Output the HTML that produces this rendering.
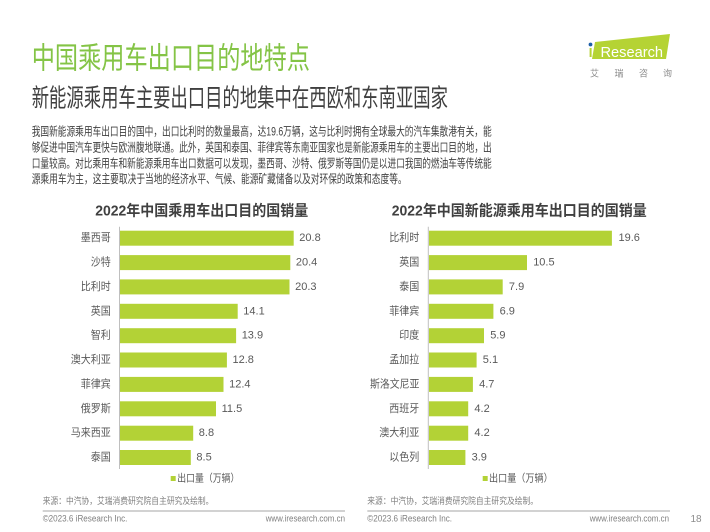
<!DOCTYPE html>
<html>
<head>
<meta charset="utf-8">
<style>
html,body{margin:0;padding:0;background:#fff;}
body{width:710px;height:532px;overflow:hidden;}
svg{display:block;}
text{font-family:"Liberation Sans","Noto Sans CJK SC",sans-serif;}
</style>
</head>
<body>
<svg width="710" height="532" viewBox="0 0 710 532" xmlns="http://www.w3.org/2000/svg">
<rect width="710" height="532" fill="#ffffff"/>

<!-- Titles -->
<text x="31.7" y="59" font-size="30" fill="#84c446" dominant-baseline="central" textLength="278.3" lengthAdjust="spacingAndGlyphs">中国乘用车出口目的地特点</text>
<text x="31.7" y="98.5" font-size="25" fill="#404040" dominant-baseline="central" textLength="416.3" lengthAdjust="spacingAndGlyphs">新能源乘用车主要出口目的地集中在西欧和东南亚国家</text>

<!-- Body paragraph -->
<g font-size="12" fill="#404040" dominant-baseline="central">
<text x="31.7" y="131.7" textLength="460" lengthAdjust="spacingAndGlyphs">我国新能源乘用车出口目的国中，出口比利时的数量最高，达19.6万辆，这与比利时拥有全球最大的汽车集散港有关，能</text>
<text x="31.7" y="147.5" textLength="460" lengthAdjust="spacingAndGlyphs">够促进中国汽车更快与欧洲腹地联通。此外，英国和泰国、菲律宾等东南亚国家也是新能源乘用车的主要出口目的地，出</text>
<text x="31.7" y="163.3" textLength="460" lengthAdjust="spacingAndGlyphs">口量较高。对比乘用车和新能源乘用车出口数据可以发现，墨西哥、沙特、俄罗斯等国仍是以进口我国的燃油车等传统能</text>
<text x="31.7" y="179" textLength="375" lengthAdjust="spacingAndGlyphs">源乘用车为主，这主要取决于当地的经济水平、气候、能源矿藏储备以及对环保的政策和态度等。</text>
</g>

<!-- Logo -->
<polygon points="595,42 670,34 666,59 592,59" fill="#b5d334"/>
<circle cx="590.5" cy="44.5" r="1.9" fill="#1e5fa8"/>
<rect x="589.6" y="48" width="2" height="9" fill="#b5d334"/>
<text x="600.5" y="57" font-size="15" fill="#ffffff" textLength="62.5" lengthAdjust="spacingAndGlyphs">Research</text>
<g font-size="9" fill="#8c8c8c" dominant-baseline="central">
<text x="590" y="73.3">艾</text>
<text x="614.5" y="73.3">瑞</text>
<text x="639" y="73.3">咨</text>
<text x="663" y="73.3">询</text>
</g>

<!-- Chart titles -->
<text x="201.7" y="211" font-size="15" font-weight="bold" fill="#404040" text-anchor="middle" dominant-baseline="central" textLength="213" lengthAdjust="spacingAndGlyphs">2022年中国乘用车出口目的国销量</text>
<text x="519.2" y="211" font-size="15" font-weight="bold" fill="#404040" text-anchor="middle" dominant-baseline="central" textLength="255" lengthAdjust="spacingAndGlyphs">2022年中国新能源乘用车出口目的国销量</text>

<!-- Left chart -->
<line x1="119.5" y1="226.7" x2="119.5" y2="469" stroke="#bfbfbf" stroke-width="1"/>
<g fill="#b3d236">
<rect x="120" y="230.7" width="173.7" height="15"/>
<rect x="120" y="255.1" width="170.3" height="15"/>
<rect x="120" y="279.4" width="169.5" height="15"/>
<rect x="120" y="303.8" width="117.7" height="15"/>
<rect x="120" y="328.2" width="116.1" height="15"/>
<rect x="120" y="352.5" width="106.9" height="15"/>
<rect x="120" y="376.9" width="103.5" height="15"/>
<rect x="120" y="401.3" width="96.0" height="15"/>
<rect x="120" y="425.7" width="73.2" height="15"/>
<rect x="120" y="450.0" width="70.8" height="15"/>
</g>
<g font-size="11" fill="#595959" text-anchor="end" dominant-baseline="central">
<text x="110.7" y="238.2" textLength="30" lengthAdjust="spacingAndGlyphs">墨西哥</text>
<text x="110.7" y="262.6" textLength="20" lengthAdjust="spacingAndGlyphs">沙特</text>
<text x="110.7" y="286.9" textLength="30" lengthAdjust="spacingAndGlyphs">比利时</text>
<text x="110.7" y="311.3" textLength="20" lengthAdjust="spacingAndGlyphs">英国</text>
<text x="110.7" y="335.7" textLength="20" lengthAdjust="spacingAndGlyphs">智利</text>
<text x="110.7" y="360.0" textLength="40" lengthAdjust="spacingAndGlyphs">澳大利亚</text>
<text x="110.7" y="384.4" textLength="30" lengthAdjust="spacingAndGlyphs">菲律宾</text>
<text x="110.7" y="408.8" textLength="30" lengthAdjust="spacingAndGlyphs">俄罗斯</text>
<text x="110.7" y="433.2" textLength="40" lengthAdjust="spacingAndGlyphs">马来西亚</text>
<text x="110.7" y="457.5" textLength="20" lengthAdjust="spacingAndGlyphs">泰国</text>
</g>
<g font-size="11" fill="#595959" dominant-baseline="central">
<text x="299.3" y="238.2">20.8</text>
<text x="295.9" y="262.6">20.4</text>
<text x="295.1" y="286.9">20.3</text>
<text x="243.3" y="311.3">14.1</text>
<text x="241.7" y="335.7">13.9</text>
<text x="232.5" y="360.0">12.8</text>
<text x="229.1" y="384.4">12.4</text>
<text x="221.6" y="408.8">11.5</text>
<text x="198.8" y="433.2">8.8</text>
<text x="196.4" y="457.5">8.5</text>
</g>
<rect x="170.7" y="476" width="5" height="5" fill="#b3d236"/>
<text x="177.3" y="478.7" font-size="10.5" fill="#595959" dominant-baseline="central" textLength="62" lengthAdjust="spacingAndGlyphs">出口量（万辆）</text>

<!-- Right chart -->
<line x1="428.3" y1="226.7" x2="428.3" y2="469" stroke="#bfbfbf" stroke-width="1"/>
<g fill="#b3d236">
<rect x="429" y="230.7" width="182.9" height="15"/>
<rect x="429" y="255.1" width="98.0" height="15"/>
<rect x="429" y="279.4" width="73.7" height="15"/>
<rect x="429" y="303.8" width="64.4" height="15"/>
<rect x="429" y="328.2" width="55.0" height="15"/>
<rect x="429" y="352.5" width="47.6" height="15"/>
<rect x="429" y="376.9" width="43.9" height="15"/>
<rect x="429" y="401.3" width="39.2" height="15"/>
<rect x="429" y="425.7" width="39.2" height="15"/>
<rect x="429" y="450.0" width="36.4" height="15"/>
</g>
<g font-size="11" fill="#595959" text-anchor="end" dominant-baseline="central">
<text x="419.3" y="238.2" textLength="30" lengthAdjust="spacingAndGlyphs">比利时</text>
<text x="419.3" y="262.6" textLength="20" lengthAdjust="spacingAndGlyphs">英国</text>
<text x="419.3" y="286.9" textLength="20" lengthAdjust="spacingAndGlyphs">泰国</text>
<text x="419.3" y="311.3" textLength="30" lengthAdjust="spacingAndGlyphs">菲律宾</text>
<text x="419.3" y="335.7" textLength="20" lengthAdjust="spacingAndGlyphs">印度</text>
<text x="419.3" y="360.0" textLength="30" lengthAdjust="spacingAndGlyphs">孟加拉</text>
<text x="419.3" y="384.4" textLength="49.3" lengthAdjust="spacingAndGlyphs">斯洛文尼亚</text>
<text x="419.3" y="408.8" textLength="30" lengthAdjust="spacingAndGlyphs">西班牙</text>
<text x="419.3" y="433.2" textLength="40" lengthAdjust="spacingAndGlyphs">澳大利亚</text>
<text x="419.3" y="457.5" textLength="30" lengthAdjust="spacingAndGlyphs">以色列</text>
</g>
<g font-size="11" fill="#595959" dominant-baseline="central">
<text x="618.5" y="238.2">19.6</text>
<text x="533.2" y="262.6">10.5</text>
<text x="508.9" y="286.9">7.9</text>
<text x="499.6" y="311.3">6.9</text>
<text x="490.2" y="335.7">5.9</text>
<text x="482.8" y="360.0">5.1</text>
<text x="479.1" y="384.4">4.7</text>
<text x="474.4" y="408.8">4.2</text>
<text x="474.4" y="433.2">4.2</text>
<text x="471.6" y="457.5">3.9</text>
</g>
<rect x="482.7" y="476" width="5" height="5" fill="#b3d236"/>
<text x="489" y="478.7" font-size="10.5" fill="#595959" dominant-baseline="central" textLength="63.7" lengthAdjust="spacingAndGlyphs">出口量（万辆）</text>

<!-- Footer -->
<g font-size="9" fill="#7f7f7f" dominant-baseline="central">
<text x="42.7" y="501" textLength="170.7" lengthAdjust="spacingAndGlyphs">来源：中汽协，艾瑞消费研究院自主研究及绘制。</text>
<text x="367.3" y="501" textLength="170.7" lengthAdjust="spacingAndGlyphs">来源：中汽协，艾瑞消费研究院自主研究及绘制。</text>
<text x="42.7" y="518.7" textLength="84.7" lengthAdjust="spacingAndGlyphs">©2023.6 iResearch Inc.</text>
<text x="367.3" y="518.7" textLength="84.7" lengthAdjust="spacingAndGlyphs">©2023.6 iResearch Inc.</text>
<text x="265.7" y="518.7" textLength="79.3" lengthAdjust="spacingAndGlyphs">www.iresearch.com.cn</text>
<text x="589.7" y="518.7" textLength="79.3" lengthAdjust="spacingAndGlyphs">www.iresearch.com.cn</text>
<text x="690.5" y="519.5" font-size="10" fill="#8c8c8c">18</text>
</g>
<line x1="42.7" y1="511" x2="345" y2="511" stroke="#a6a6a6" stroke-width="1"/>
<line x1="367.3" y1="511" x2="670" y2="511" stroke="#a6a6a6" stroke-width="1"/>
</svg>
</body>
</html>
